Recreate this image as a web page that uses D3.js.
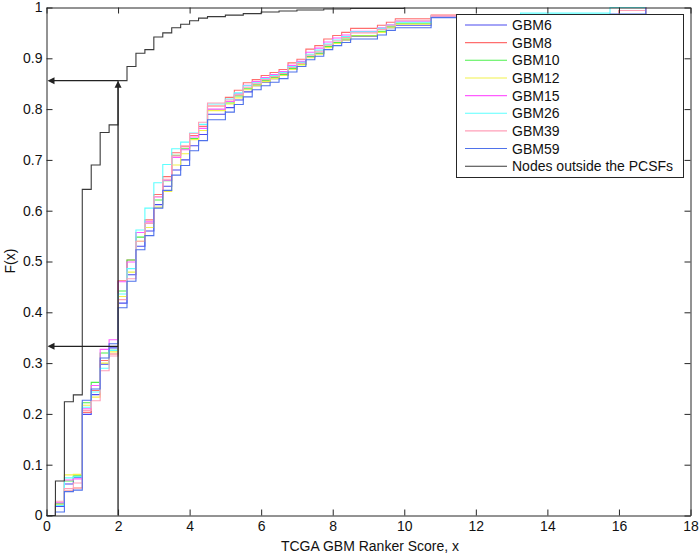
<!DOCTYPE html>
<html><head><meta charset="utf-8">
<script src="https://cdnjs.cloudflare.com/ajax/libs/d3/7.8.5/d3.min.js"></script>
<style>
html,body{margin:0;padding:0;background:#fff;}
svg{display:block;font-family:"Liberation Sans",Arial,sans-serif;}
</style></head>
<body><svg id="c" width="700" height="554"></svg>
<script>
// ---- data ----
const stepX = [0.25,0.5,0.75,1,1.25,1.5,1.75,2,2.25,2.5,2.75,3,3.25,3.5,3.75,4,4.25,4.5,5,5.25,5.5,5.75,6,6.25,6.5,6.75,7,7.25,7.5,7.75,8,8.25,8.5,9.25,9.5,9.75,10.75,13.25,15.75,16,16.75];
const seriesNames = ["GBM6","GBM8","GBM10","GBM12","GBM15","GBM26","GBM39","GBM59"];
const seriesColors = ["#4b4bf0","#ff6e6e","#4cf04c","#f2f24a","#ff5cff","#5cffff","#ff9fb8","#4f72ea"];
const GBM6  = [0.018,0.062,0.075,0.199,0.238,0.298,0.330,0.418,0.474,0.530,0.560,0.612,0.648,0.680,0.700,0.728,0.750,0.790,0.803,0.818,0.834,0.846,0.853,0.860,0.866,0.878,0.888,0.903,0.910,0.922,0.930,0.936,0.943,0.951,0.960,0.965,0.982,0.986,0.986,0.986,1.0];
const GBM8  = [0.022,0.048,0.054,0.203,0.246,0.305,0.318,0.462,0.503,0.557,0.582,0.632,0.667,0.714,0.726,0.748,0.766,0.806,0.823,0.837,0.852,0.858,0.866,0.872,0.878,0.891,0.898,0.918,0.925,0.938,0.945,0.951,0.959,0.965,0.971,0.978,0.985,0.985,0.985,0.994,1.0];
const GBM10 = [0.024,0.068,0.078,0.222,0.262,0.320,0.325,0.442,0.503,0.548,0.575,0.621,0.659,0.709,0.722,0.742,0.758,0.798,0.812,0.826,0.840,0.848,0.856,0.862,0.868,0.880,0.888,0.903,0.910,0.923,0.931,0.938,0.945,0.953,0.962,0.969,0.982,0.985,0.985,0.985,1.0];
const GBM12 = [0.021,0.080,0.081,0.217,0.233,0.300,0.322,0.431,0.479,0.540,0.567,0.607,0.638,0.690,0.712,0.740,0.758,0.797,0.810,0.822,0.838,0.846,0.854,0.860,0.866,0.878,0.887,0.901,0.908,0.921,0.929,0.936,0.944,0.951,0.960,0.967,0.982,0.985,0.985,0.985,1.0];
const GBM15 = [0.025,0.070,0.072,0.210,0.256,0.327,0.346,0.460,0.499,0.557,0.578,0.627,0.660,0.705,0.720,0.745,0.762,0.800,0.815,0.830,0.847,0.854,0.862,0.868,0.874,0.886,0.894,0.912,0.920,0.932,0.940,0.946,0.953,0.960,0.966,0.973,0.983,0.985,0.985,0.985,1.0];
const GBM26 = [0.020,0.074,0.076,0.213,0.243,0.290,0.325,0.436,0.486,0.562,0.605,0.655,0.691,0.722,0.735,0.753,0.770,0.810,0.820,0.832,0.846,0.852,0.860,0.866,0.872,0.884,0.892,0.908,0.916,0.928,0.936,0.943,0.952,0.959,0.965,0.971,0.984,0.989,1.0,1.0,1.0];
const GBM39 = [0.028,0.053,0.064,0.207,0.226,0.285,0.314,0.425,0.466,0.540,0.575,0.628,0.662,0.708,0.728,0.752,0.774,0.812,0.818,0.828,0.843,0.850,0.858,0.864,0.870,0.882,0.890,0.906,0.914,0.926,0.934,0.941,0.950,0.957,0.964,0.975,0.984,0.985,0.985,0.994,1.0];
const GBM59 = [0.007,0.047,0.050,0.227,0.249,0.310,0.338,0.409,0.461,0.523,0.551,0.605,0.640,0.670,0.689,0.718,0.738,0.779,0.794,0.809,0.824,0.838,0.846,0.853,0.860,0.873,0.884,0.897,0.904,0.917,0.925,0.931,0.938,0.946,0.955,0.960,0.980,0.984,0.987,0.987,1.0];
const outsideName = "Nodes outside the PCSFs";
const outsideX = [0.25,0.5,0.75,1,1.25,1.5,1.75,2,2.25,2.5,2.75,3,3.25,3.5,3.75,4,4.25,4.5,5,5.5,6,6.5,7,7.75,8.5,10];
const outsideF = [0.068,0.224,0.2375,0.642,0.690,0.754,0.769,0.856,0.884,0.910,0.917,0.942,0.950,0.960,0.967,0.974,0.979,0.982,0.985,0.988,0.991,0.993,0.995,0.997,0.998,1.0];
const arrowX = 2;
const arrowF = [0.856, 0.333];
const xTicks = [0,2,4,6,8,10,12,14,16,18];
const yTicks = [0,0.1,0.2,0.3,0.4,0.5,0.6,0.7,0.8,0.9,1];
const xTitle = "TCGA GBM Ranker Score, x";
const yTitle = "F(x)";

// ---- drawing ----
const seriesVals = [GBM6,GBM8,GBM10,GBM12,GBM15,GBM26,GBM39,GBM59];
const L = 46.5, T = 7.5, W = 644, H = 508;
const svg = d3.select("#c");
const g = svg.append("g").attr("transform", `translate(${L},${T})`);
const x = d3.scaleLinear().domain([0,18]).range([0,W]);
const y = d3.scaleLinear().domain([0,1]).range([H,0]);
const line = d3.line().x(d=>x(d[0])).y(d=>y(d[1])).curve(d3.curveStepAfter);

seriesVals.forEach((vals,i)=>{
  const pts = [[0,0]].concat(stepX.map((sx,j)=>[sx, vals[j]]));
  g.append("path").attr("d", line(pts)).attr("fill","none")
    .attr("stroke", seriesColors[i]).attr("stroke-width",1.1);
});
const bpts = [[0,0]].concat(outsideX.map((sx,j)=>[sx, outsideF[j]]));
g.append("path").attr("d", line(bpts)).attr("fill","none").attr("stroke","#3a3a3a").attr("stroke-width",1.1);

// arrows
const ac = "#222";
function arrowHead(px,py,dir){
  const a = 7, b = 3.5;
  let p;
  if(dir==="up") p = [[px,py],[px-b,py+a],[px+b,py+a]];
  else p = [[px,py],[px+a,py-b],[px+a,py+b]];
  g.append("path").attr("d","M"+p.map(q=>q.join(",")).join("L")+"Z").attr("fill",ac);
}
g.append("line").attr("x1",x(arrowX)).attr("x2",x(arrowX)).attr("y1",y(0)).attr("y2",y(arrowF[0])+6)
  .attr("stroke",ac).attr("stroke-width",1.3);
arrowHead(x(arrowX), y(arrowF[0]), "up");
arrowF.forEach(f=>{
  g.append("line").attr("x1",x(arrowX)).attr("x2",x(0)+6).attr("y1",y(f)).attr("y2",y(f))
    .attr("stroke",ac).attr("stroke-width",1.3);
  arrowHead(x(0)+1, y(f), "left");
});

// axes box with inward ticks
const axC = "#262626";
const xb = d3.axisBottom(x).tickValues(xTicks).tickSizeInner(-6).tickSizeOuter(0).tickPadding(6).tickFormat(d3.format("d"));
const xt = d3.axisTop(x).tickValues(xTicks).tickSizeInner(-6).tickSizeOuter(0).tickFormat("");
const yl = d3.axisLeft(y).tickValues(yTicks).tickSizeInner(-6).tickSizeOuter(0).tickPadding(4).tickFormat(d=>d===0||d===1?String(d):d3.format(".1f")(d));
const yr = d3.axisRight(y).tickValues(yTicks).tickSizeInner(-6).tickSizeOuter(0).tickFormat("");
g.append("g").attr("transform",`translate(0,${H})`).call(xb);
g.append("g").call(xt);
g.append("g").call(yl);
g.append("g").attr("transform",`translate(${W},0)`).call(yr);
g.selectAll(".domain").attr("stroke",axC);
g.selectAll(".tick line").attr("stroke",axC);
g.selectAll(".tick text").attr("font-size",14).attr("fill","#111").attr("font-family","Liberation Sans, Arial, sans-serif");

svg.append("text").attr("x", 370).attr("y", 551).attr("text-anchor","middle")
  .attr("font-size",14).attr("fill","#111").text(xTitle);
svg.append("text").attr("transform","translate(15,261) rotate(-90)").attr("text-anchor","middle")
  .attr("font-size",14).attr("fill","#111").text(yTitle);

// legend
const lg = svg.append("g");
lg.append("rect").attr("x",456.5).attr("y",14.5).attr("width",227).attr("height",163)
  .attr("fill","#fff").attr("stroke",axC).attr("stroke-width",1);
const names = seriesNames.concat([outsideName]);
const cols = seriesColors.concat(["#3a3a3a"]);
names.forEach((n,i)=>{
  const yy = 25 + i*17.65;
  lg.append("line").attr("x1",465).attr("x2",507).attr("y1",yy).attr("y2",yy).attr("stroke",cols[i]).attr("stroke-width",1.1);
  lg.append("text").attr("x",512).attr("y",yy).attr("dy","0.36em").attr("font-size",14).attr("fill","#111").text(n);
});
</script></body></html>
